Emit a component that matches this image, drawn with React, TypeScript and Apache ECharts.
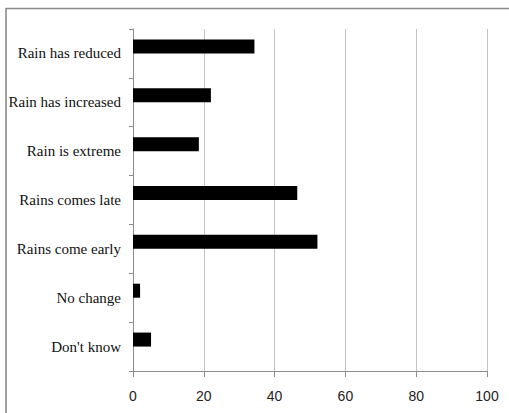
import React, { useEffect, useRef } from "react";
import * as echarts from "echarts";

// Categories listed bottom to top (ECharts draws the first category at the bottom)
const categories = [
  "Don't know",
  "No change",
  "Rains come early",
  "Rains comes late",
  "Rain is extreme",
  "Rain has increased",
  "Rain has reduced",
];

// Percentage of respondents per perception
const responses = [5.1, 2.0, 52.1, 46.4, 18.6, 22.0, 34.3];

// Empty companion series: keeps each bar in the upper half of its band
const placeholder = categories.map(() => null);

const xTicks = [0, 20, 40, 60, 80, 100];

export default function App() {
  const ref = useRef<HTMLDivElement>(null);

  useEffect(() => {
    document.body.style.margin = "0";
    if (!ref.current) return;
    const chart = echarts.init(ref.current, null, { renderer: "svg" });
    chart.setOption({
      animation: false,
      backgroundColor: "#ffffff",
      graphic: [
        {
          type: "rect",
          shape: { x: 6, y: 8.5, width: 620, height: 520 },
          style: { fill: "none", stroke: "#8a8a8a", lineWidth: 1.6 },
          silent: true,
        },
      ],
      grid: { left: 133, right: 22, top: 29, bottom: 42, containLabel: false },
      xAxis: {
        type: "value",
        min: xTicks[0],
        max: xTicks[xTicks.length - 1],
        interval: 20,
        axisLine: { show: true, lineStyle: { color: "#8c8c8c", width: 1 } },
        axisTick: { show: true, length: 6, lineStyle: { color: "#8c8c8c" } },
        splitLine: { show: true, lineStyle: { color: "#c4c4c4", width: 1 } },
        axisLabel: {
          margin: 18,
          color: "#222",
          fontSize: 14,
          fontFamily: "Liberation Sans",
        },
      },
      yAxis: {
        type: "category",
        data: categories,
        axisLine: { show: true, lineStyle: { color: "#8c8c8c", width: 1 } },
        axisTick: { show: true, length: 4, lineStyle: { color: "#8c8c8c" } },
        axisLabel: {
          margin: 12,
          color: "#111",
          fontSize: 15,
          fontFamily: "Liberation Serif",
        },
      },
      series: [
        {
          type: "bar",
          data: responses,
          barWidth: 14,
          barGap: "0%",
          itemStyle: { color: "#000000" },
        },
        {
          type: "bar",
          data: placeholder,
          barWidth: 14,
          itemStyle: { color: "#000000" },
        },
      ],
    });
    return () => chart.dispose();
  }, []);

  return <div ref={ref} style={{ width: 509, height: 413 }} />;
}
